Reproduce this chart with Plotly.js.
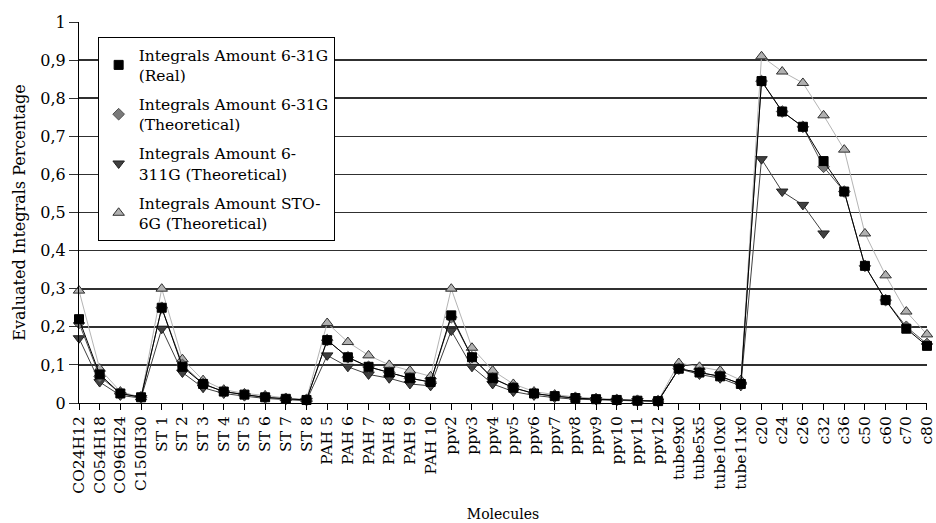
<!DOCTYPE html>
<html>
<head>
<meta charset="utf-8">
<script src="https://cdn.plot.ly/plotly-3.0.1.min.js"></script>
<style>body{margin:0;background:#fff}#chart{width:936px;height:523px}</style>
</head>
<body>
<div id="chart"></div>
<script>
const molecules = ["CO24H12","CO54H18","CO96H24","C150H30","ST 1","ST 2","ST 3","ST 4","ST 5","ST 6","ST 7","ST 8",
  "PAH 5","PAH 6","PAH 7","PAH 8","PAH 9","PAH 10","ppv2","ppv3","ppv4","ppv5","ppv6","ppv7","ppv8","ppv9","ppv10","ppv11","ppv12",
  "tube9x0","tube5x5","tube10x0","tube11x0","c20","c24","c26","c32","c36","c50","c60","c70","c80"];

const real631G = [0.22,0.075,0.025,0.015,0.25,0.095,0.05,0.03,0.022,0.015,0.011,0.008,
  0.165,0.12,0.095,0.08,0.065,0.055,0.23,0.12,0.065,0.04,0.025,0.018,0.013,0.01,0.008,0.006,0.005,
  0.09,0.08,0.07,0.05,0.845,0.765,0.725,0.635,0.555,0.36,0.27,0.195,0.15];

const theo631G = [0.21,0.07,0.025,0.015,0.25,0.10,0.05,0.03,0.022,0.015,0.011,0.008,
  0.165,0.12,0.095,0.08,0.065,0.055,0.225,0.12,0.065,0.04,0.025,0.018,0.013,0.01,0.008,0.006,0.005,
  0.09,0.08,0.07,0.05,0.845,0.765,0.725,0.62,0.555,0.36,0.27,0.2,0.155];

const theo6311G = [0.17,0.055,0.02,0.013,0.195,0.08,0.04,0.025,0.018,0.012,0.009,0.006,
  0.125,0.095,0.075,0.065,0.05,0.045,0.19,0.095,0.05,0.03,0.02,0.014,0.01,0.008,0.006,0.005,0.004,
  0.09,0.075,0.065,0.045,0.64,0.555,0.52,0.445,null,null,null,null,null];

const theoSTO6G = [0.295,0.09,0.03,0.015,0.30,0.115,0.06,0.035,0.025,0.02,0.013,0.01,
  0.21,0.16,0.125,0.10,0.085,0.07,0.30,0.145,0.085,0.05,0.03,0.022,0.016,0.012,0.01,0.007,0.006,
  0.105,0.095,0.085,0.06,0.91,0.87,0.84,0.755,0.665,0.445,0.335,0.24,0.18];

const seriesNames = ["Integrals Amount 6-31G<br>(Real)","Integrals Amount 6-31G<br>(Theoretical)",
  "Integrals Amount 6-<br>311G (Theoretical)","Integrals Amount STO-<br>6G (Theoretical)"];

const idx = molecules.map((_, i) => i);
const styles = [
  {line:'#000000', fill:'#000000', edge:'#000000', sym:'square', size:9},
  {line:'#505050', fill:'#7a7a7a', edge:'#505050', sym:'diamond', size:9},
  {line:'#404040', fill:'#404040', edge:'#202020', sym:'triangle-down', size:10},
  {line:'#b4b4b4', fill:'#b0b0b0', edge:'#303030', sym:'triangle-up', size:10}
];
const allData = [real631G, theo631G, theo6311G, theoSTO6G];
const order = [3, 2, 1, 0];
const traces = [];
order.forEach(k => {
  const s = styles[k];
  traces.push({x: idx, y: allData[k], type:'scatter', mode:'lines+markers', showlegend:false,
    cliponaxis:false, hoverinfo:'skip',
    line:{color:s.line, width:1},
    marker:{symbol:s.sym, size:s.size, color:s.fill, line:{color:s.edge, width:1}}});
});
[0,1,2,3].forEach(k => {
  const s = styles[k];
  traces.push({x:[null], y:[null], type:'scatter', mode:'markers', name: seriesNames[k], showlegend:true,
    legendgroup:'g'+k,
    marker:{symbol:s.sym, size:s.size, color:s.fill, line:{color:s.edge, width:1}}});
});

const font = "'DejaVu Serif', 'Liberation Serif', serif";
const layout = {
  width:936, height:523,
  margin:{l:79, r:9, t:22, b:120},
  paper_bgcolor:'#fff', plot_bgcolor:'#fff',
  separators:',.',
  font:{family:font, size:15, color:'#000'},
  showlegend:true,
  legend:{x:0.022, y:0.96, xanchor:'left', yanchor:'top', bgcolor:'#fff', bordercolor:'#000', borderwidth:1,
    font:{family:font, size:15.5, color:'#000'}, itemwidth:30, tracegroupgap:6},
  xaxis:{range:[0,41.001], tickmode:'array', tickvals:idx, ticktext:molecules, tickangle:-90,
    ticks:'outside', ticklen:6, tickcolor:'#000', showline:true, linecolor:'#000', linewidth:1,
    showgrid:false, zeroline:false, tickfont:{family:font, size:15.5}, ticklabeloverflow:'allow',
    title:{text:'Molecules', font:{family:font, size:14}, standoff:16}},
  yaxis:{range:[0,1], dtick:0.1, tick0:0, ticks:'outside', ticklen:9, tickcolor:'#303030',
    showline:true, linecolor:'#000', linewidth:1, showgrid:true, gridcolor:'#303030', gridwidth:1.6,
    zeroline:false, tickfont:{family:font, size:16},
    title:{text:'Evaluated Integrals Percentage', font:{family:font, size:16}, standoff:10}}
};
Plotly.newPlot('chart', traces, layout, {displayModeBar:false, staticPlot:true});
</script>
</body>
</html>
